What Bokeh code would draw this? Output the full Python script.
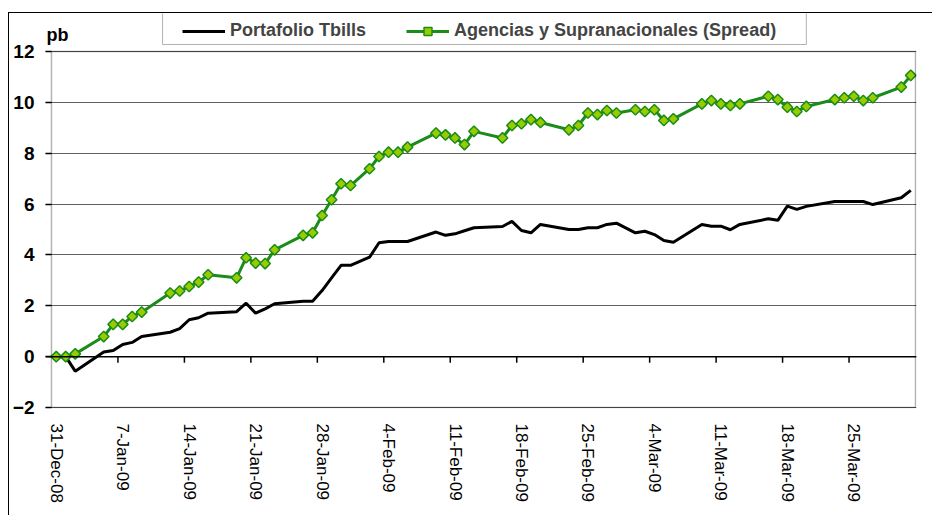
import math
from bokeh.plotting import figure
from bokeh.models import (Range1d, FixedTicker, Span, Legend, LegendItem, Label,
                          BoxAnnotation, ColumnDataSource)
from bokeh.embed import file_html
from bokeh.resources import INLINE

# ---- data (day 0 = 31-Dec-08) ----
days = [0, 1, 2, 5, 6, 7, 8, 9, 12, 13, 14, 15, 16, 19, 20, 21, 22, 23,
        26, 27, 28, 29, 30, 31, 33, 34, 35, 36, 37, 40, 41, 42, 43, 44,
        47, 48, 49, 50, 51, 54, 55, 56, 57, 58, 59, 61, 62, 63, 64, 65,
        68, 69, 70, 71, 72, 75, 76, 77, 78, 79, 82, 83, 84, 85, 86, 89, 90]
tbills = [0, 0, -0.57, 0.18, 0.24, 0.48, 0.56, 0.79, 0.96, 1.10, 1.45, 1.53, 1.71,
          1.77, 2.10, 1.71, 1.88, 2.08, 2.18, 2.18, 2.60, 3.10, 3.59, 3.59,
          3.91, 4.48, 4.53, 4.53, 4.53, 4.90, 4.77, 4.83, 4.95, 5.07,
          5.12, 5.32, 4.96, 4.87, 5.20, 5.00, 5.00, 5.07, 5.07, 5.20, 5.25,
          4.87, 4.93, 4.80, 4.57, 4.50, 5.20, 5.13, 5.13, 4.99, 5.20,
          5.42, 5.36, 5.92, 5.79, 5.91, 6.10, 6.10, 6.10, 6.10, 5.98, 6.25, 6.54]
agencias = [0, 0, 0.11, 0.79, 1.27, 1.27, 1.58, 1.75, 2.50, 2.58, 2.76, 2.93, 3.22,
            3.10, 3.89, 3.68, 3.66, 4.20, 4.77, 4.87, 5.55, 6.17, 6.80, 6.73,
            7.39, 7.87, 8.04, 8.04, 8.24, 8.79, 8.72, 8.60, 8.34, 8.86,
            8.60, 9.09, 9.16, 9.32, 9.21, 8.92, 9.09, 9.58, 9.52, 9.68, 9.58,
            9.71, 9.64, 9.71, 9.29, 9.35, 9.94, 10.07, 9.94, 9.88, 9.94,
            10.24, 10.11, 9.81, 9.64, 9.84, 10.11, 10.18, 10.24, 10.07, 10.18, 10.60, 11.06]
tick_days = [0, 7, 14, 21, 28, 35, 42, 49, 56, 63, 70, 77, 84]
tick_labels = ["31-Dec-08", "7-Jan-09", "14-Jan-09", "21-Jan-09", "28-Jan-09",
               "4-Feb-09", "11-Feb-09", "18-Feb-09", "25-Feb-09", "4-Mar-09",
               "11-Mar-09", "18-Mar-09", "25-Mar-09"]
y_ticks = [-2, 0, 2, 4, 6, 8, 10, 12]
series_names = ["Portafolio Tbills", "Agencias y Supranacionales (Spread)"]
unit_label = "pb"

FONT = "Liberation Sans"
X_LO, X_HI = -0.5, 90.5      # plot area in days
Y_LO, Y_HI = -2, 12          # plot area in pb

# The frame is a little larger than the plot area so the legend and
# the "pb" label (which sit above the plot area) are not clipped.
p = figure(width=924, height=503, output_backend="svg", toolbar_location=None,
           x_range=Range1d(-1.13, 90.605), y_range=Range1d(-2.039, 13.494),
           min_border_left=33, min_border_right=17, min_border_top=0,
           min_border_bottom=108)
p.styles = {"margin-left": "8px", "margin-top": "12px",
            "border-left": "1px solid black", "border-top": "1px solid black"}
p.background_fill_color = "white"
p.border_fill_color = "white"
p.outline_line_color = None

# x axis (labels at the bottom of the plot area)
p.xaxis.ticker = FixedTicker(ticks=tick_days)
p.xaxis.major_label_overrides = {d: l for d, l in zip(tick_days, tick_labels)}
p.xaxis.major_label_orientation = "vertical"
p.xaxis.axis_line_color = None
p.xaxis.major_tick_line_color = None
p.xaxis.minor_tick_line_color = None
p.xaxis.major_tick_out = 0
p.xaxis.major_tick_in = 0
p.xaxis.major_label_standoff = 15
p.xaxis.major_label_text_font = FONT
p.xaxis.major_label_text_font_size = "17px"
p.xaxis.major_label_text_color = "black"

# y axis: ticks drawn inward from the frame edge up to the plot area
p.yaxis.ticker = FixedTicker(ticks=y_ticks)
p.yaxis.axis_line_color = None
p.yaxis.major_tick_line_color = "black"
p.yaxis.major_tick_line_width = 1.5
p.yaxis.major_tick_out = 0
p.yaxis.major_tick_in = 6
p.yaxis.minor_tick_line_color = None
p.yaxis.major_label_standoff = 11
p.yaxis.major_label_text_font = FONT
p.yaxis.major_label_text_font_style = "bold"
p.yaxis.major_label_text_font_size = "19px"
p.yaxis.major_label_text_color = "black"

p.xgrid.grid_line_color = None
p.ygrid.ticker = FixedTicker(ticks=y_ticks)
p.ygrid.grid_line_color = "#606060"
p.ygrid.grid_line_width = 1

# plot-area border
p.add_layout(BoxAnnotation(left=X_LO, right=X_HI, bottom=Y_LO, top=Y_HI,
                           fill_color=None, line_color="black", line_width=1.5))

# horizontal axis crossing at zero, with tick marks between days
p.add_layout(Span(location=0, dimension="width", line_color="black", line_width=1.5))
tick_len = 0.24
bx = [d - 0.5 for d in tick_days[1:]]
p.segment(x0=bx, y0=[0] * len(bx), x1=bx, y1=[-tick_len] * len(bx),
          line_color="black", line_width=1.5)

src = ColumnDataSource(dict(x=days, tb=tbills, ag=agencias))
r_tb = p.line("x", "tb", source=src, line_color="black", line_width=3)
r_ag = p.line("x", "ag", source=src, line_color="#1A8C1A", line_width=3)
r_agm = p.scatter("x", "ag", source=src, marker="square", angle=math.pi / 4, size=7.5,
                  fill_color="#99CC00", line_color="#1A8C1A", line_width=1.5)

# unit label
p.add_layout(Label(x=1, y=374, x_units="screen", y_units="screen", text=unit_label,
                   text_font=FONT, text_font_style="bold", text_font_size="18px",
                   text_color="black", text_baseline="alphabetic"))

# legend frame (wider than the legend's own padding allows)
p.add_layout(BoxAnnotation(left=11.2, right=79.0, bottom=12.275, top=14.0,
                           fill_color="white", fill_alpha=1,
                           line_color="black", line_width=1))

legend = Legend(items=[LegendItem(label=series_names[0], renderers=[r_tb]),
                       LegendItem(label=series_names[1], renderers=[r_ag, r_agm])],
                orientation="horizontal", location=(137, 367),
                border_line_color=None,
                padding=6, spacing=40, margin=0, glyph_width=43, glyph_height=20,
                label_standoff=5, label_height=20,
                label_text_font=FONT, label_text_font_style="bold",
                label_text_font_size="18px", background_fill_color=None,
                background_fill_alpha=0)
p.add_layout(legend, "center")

open("out.html", "w").write(file_html(p, INLINE))
